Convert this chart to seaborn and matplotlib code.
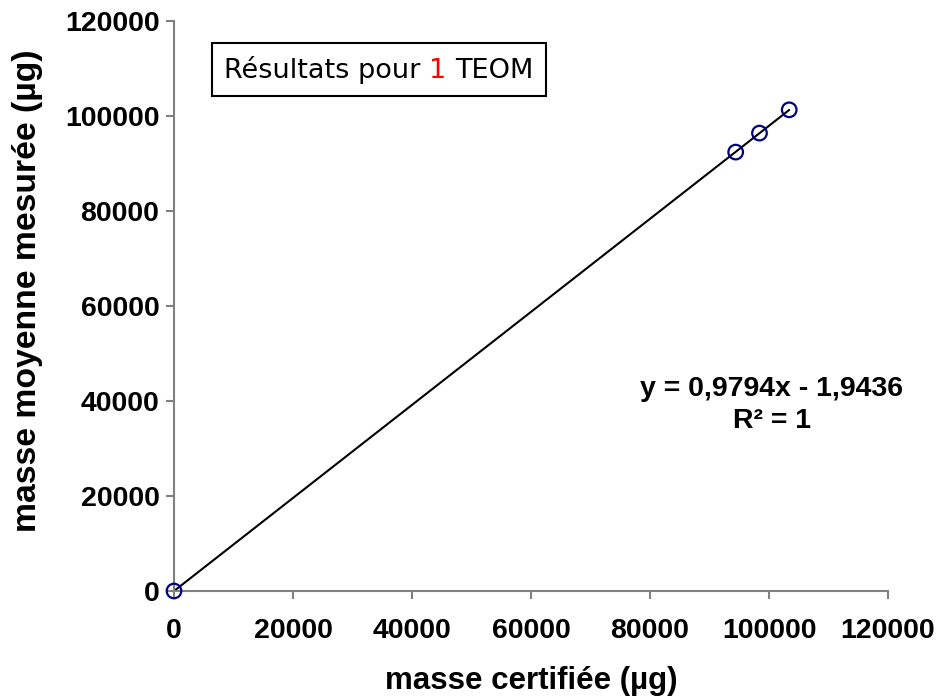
import numpy as np
import pandas as pd
import matplotlib
matplotlib.use("Agg")
import matplotlib.pyplot as plt
import seaborn as sns
from matplotlib.offsetbox import TextArea, HPacker, AnchoredOffsetbox

# data
masse_certifiee = [0, 94400, 98400, 103400]
masse_mesuree = [0, 92400, 96400, 101300]
ticks = [0, 20000, 40000, 60000, 80000, 100000, 120000]
x_label = "masse certifiée (µg)"
y_label = "masse moyenne mesurée (µg)"
equation = "y = 0,9794x - 1,9436"
r2_text = "R² = 1"

df = pd.DataFrame({"x": masse_certifiee, "y": masse_mesuree})

sns.set_style("white")
plt.rcParams["font.family"] = ["Liberation Sans", "DejaVu Sans"]
plt.rcParams["text.color"] = "black"
plt.rcParams["axes.labelcolor"] = "black"
plt.rcParams["xtick.color"] = "black"
plt.rcParams["ytick.color"] = "black"

fig = plt.figure(figsize=(9.42, 7.0), dpi=100)
ax = fig.add_axes([174/942, 1-591/700, (888-174)/942, (591-21)/700])

sns.regplot(data=df, x="x", y="y", ax=ax, scatter=False, ci=None,
            color="black", line_kws={"linewidth": 1.5, "zorder": 2})
sns.scatterplot(data=df, x="x", y="y", ax=ax, marker="o", s=110,
                facecolors="none", edgecolor="#000080", linewidth=1.6,
                zorder=3, legend=False, clip_on=False)

ax.set_xlim(0, 120000)
ax.set_ylim(0, 120000)
ax.set_xticks(ticks)
ax.set_yticks(ticks)
ax.set_xticklabels([str(t) for t in ticks])
ax.set_yticklabels([str(t) for t in ticks])

for side in ["top", "right"]:
    ax.spines[side].set_visible(False)
for side in ["left", "bottom"]:
    ax.spines[side].set_color("#808080")
    ax.spines[side].set_linewidth(1.5)

ax.tick_params(axis="both", which="major", direction="out", length=5.5,
               width=1.5, color="#808080", labelcolor="black",
               labelsize=20.5, bottom=True, left=True)
ax.tick_params(axis="x", pad=14)
ax.tick_params(axis="y", pad=5)
for lab in ax.get_xticklabels() + ax.get_yticklabels():
    lab.set_fontweight("bold")

ax.set_xlabel(x_label, fontsize=22.5, fontweight="bold")
ax.set_ylabel(y_label, fontsize=24.3, fontweight="bold")
ax.xaxis.set_label_coords(0.5, (591-666)/570)
ax.yaxis.set_label_coords((28-174)/714, (591-291)/570)
ax.yaxis.label.set_va("center")
ax.grid(False)

# equation
fig.text(772/942, 1-389/700, equation, ha="center", va="center",
         fontsize=20.5, fontweight="bold")
fig.text(772/942, 1-421/700, r2_text, ha="center", va="center",
         fontsize=20.5, fontweight="bold")

# title box
fs = 19.5
tp = dict(fontsize=fs, family="DejaVu Sans")
t1 = TextArea("Résultats pour", textprops=dict(color="black", **tp))
t2 = TextArea("1", textprops=dict(color="red", **tp))
t3 = TextArea("TEOM", textprops=dict(color="black", **tp))
box = HPacker(children=[t1, t2, t3], align="baseline", pad=9, sep=6)
anch = AnchoredOffsetbox(loc="upper left", child=box, pad=0, borderpad=0,
                         frameon=True, bbox_to_anchor=(212/942, 1-43/700),
                         bbox_transform=fig.transFigure)
anch.patch.set_edgecolor("black")
anch.patch.set_linewidth(1.5)
anch.patch.set_boxstyle("square", pad=0)
ax.add_artist(anch)

fig.savefig("out.png", dpi=100)
